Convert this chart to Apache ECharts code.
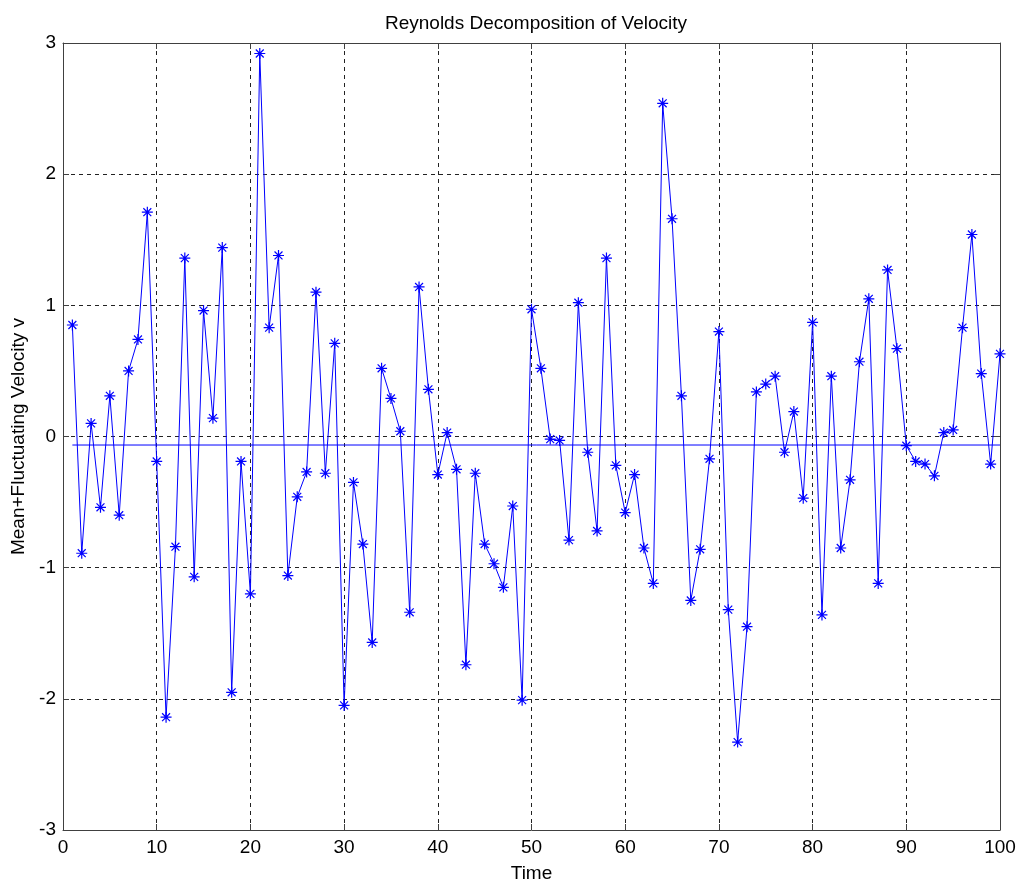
<!DOCTYPE html>
<html>
<head>
<meta charset="utf-8">
<title>Reynolds Decomposition of Velocity</title>
<script src="https://cdn.jsdelivr.net/npm/echarts@6/dist/echarts.min.js"></script>
<style>
  html, body { margin: 0; padding: 0; background: #fff; }
  #chart { width: 1024px; height: 888px; }
</style>
</head>
<body>
<div id="chart"></div>
<script>
// time steps 1..100
const time = [
  1, 2, 3, 4, 5, 6, 7, 8, 9, 10,
  11, 12, 13, 14, 15, 16, 17, 18, 19, 20,
  21, 22, 23, 24, 25, 26, 27, 28, 29, 30,
  31, 32, 33, 34, 35, 36, 37, 38, 39, 40,
  41, 42, 43, 44, 45, 46, 47, 48, 49, 50,
  51, 52, 53, 54, 55, 56, 57, 58, 59, 60,
  61, 62, 63, 64, 65, 66, 67, 68, 69, 70,
  71, 72, 73, 74, 75, 76, 77, 78, 79, 80,
  81, 82, 83, 84, 85, 86, 87, 88, 89, 90,
  91, 92, 93, 94, 95, 96, 97, 98, 99, 100
];
// mean + fluctuating velocity
const velocity = [
  0.85, -0.89, 0.10, -0.54, 0.31, -0.60, 0.50, 0.74, 1.71, -0.19,
  -2.14, -0.84, 1.36, -1.07, 0.96, 0.14, 1.44, -1.95, -0.19, -1.20,
  2.92, 0.83, 1.38, -1.06, -0.46, -0.27, 1.10, -0.28, 0.71, -2.05,
  -0.35, -0.82, -1.57, 0.52, 0.29, 0.04, -1.34, 1.14, 0.36, -0.29,
  0.03, -0.25, -1.74, -0.28, -0.82, -0.97, -1.15, -0.53, -2.01, 0.97,
  0.52, -0.02, -0.03, -0.79, 1.02, -0.12, -0.72, 1.36, -0.22, -0.58,
  -0.29, -0.85, -1.12, 2.54, 1.66, 0.31, -1.25, -0.86, -0.17, 0.80,
  -1.32, -2.33, -1.45, 0.34, 0.40, 0.46, -0.12, 0.19, -0.47, 0.87,
  -1.36, 0.46, -0.85, -0.33, 0.57, 1.05, -1.12, 1.27, 0.67, -0.07,
  -0.19, -0.21, -0.30, 0.03, 0.05, 0.83, 1.54, 0.48, -0.21, 0.63
];
// mean velocity line, from first to last sample
const meanTime = [1, 100];
const meanValue = [-0.065, -0.065];

const font = "'Liberation Sans', Arial, sans-serif";
const boxColor = "#404040";

const chart = echarts.init(document.getElementById("chart"));

// matlab style '*' marker
const star = "path://M0,-5L0,5M-5,0L5,0M-3.6,-3.6L3.6,3.6M-3.6,3.6L3.6,-3.6";

const xBase = {
  type: "value",
  min: 0,
  max: 100,
  interval: 10,
  axisLine: { show: true, onZero: false, lineStyle: { color: boxColor, width: 1 } },
  axisTick: { show: true, inside: true, length: 6, lineStyle: { color: boxColor } }
};
const yBase = {
  type: "value",
  min: -3,
  max: 3,
  interval: 1,
  axisLine: { show: true, onZero: false, lineStyle: { color: boxColor, width: 1 } },
  axisTick: { show: true, inside: true, length: 6, lineStyle: { color: boxColor } }
};

const option = {
  animation: false,
  backgroundColor: "#fff",
  title: {
    text: "Reynolds Decomposition of Velocity",
    left: 531,
    textAlign: "center",
    top: 9,
    textStyle: { fontFamily: font, fontSize: 19, fontWeight: "normal", color: "#000" }
  },
  grid: { left: 63, right: 24, top: 43, bottom: 54, containLabel: false },
  xAxis: [
    Object.assign({}, xBase, {
      position: "bottom",
      name: "Time",
      nameLocation: "middle",
      nameGap: 34,
      nameTextStyle: { fontFamily: font, fontSize: 19, color: "#000" },
      axisLabel: { fontFamily: font, fontSize: 19, color: "#000", margin: 8 },
      splitLine: { show: true, lineStyle: { color: "#222", width: 1, type: [4, 4] } }
    }),
    Object.assign({}, xBase, {
      position: "top",
      axisLabel: { show: false },
      splitLine: { show: false }
    })
  ],
  yAxis: [
    Object.assign({}, yBase, {
      position: "left",
      name: "Mean+Fluctuating Velocity v",
      nameLocation: "middle",
      nameGap: 29,
      nameRotate: 90,
      nameTextStyle: { fontFamily: font, fontSize: 19, color: "#000" },
      axisLabel: { fontFamily: font, fontSize: 19, color: "#000", margin: 7 },
      splitLine: { show: true, lineStyle: { color: "#222", width: 1, type: [4, 4] } }
    }),
    Object.assign({}, yBase, {
      position: "right",
      axisLabel: { show: false },
      splitLine: { show: false }
    })
  ],
  series: [
    {
      type: "line",
      data: time.map((t, i) => [t, velocity[i]]),
      symbol: star,
      symbolSize: 11,
      showAllSymbol: true,
      lineStyle: { color: "#0000ff", width: 1 },
      itemStyle: { color: "#0000ff", borderColor: "#0000ff", borderWidth: 1.2 },
      z: 3
    },
    {
      type: "line",
      data: meanTime.map((t, i) => [t, meanValue[i]]),
      showSymbol: false,
      symbol: "none",
      lineStyle: { color: "#0000ff", width: 1 },
      z: 2
    }
  ]
};

chart.setOption(option);
</script>
</body>
</html>
